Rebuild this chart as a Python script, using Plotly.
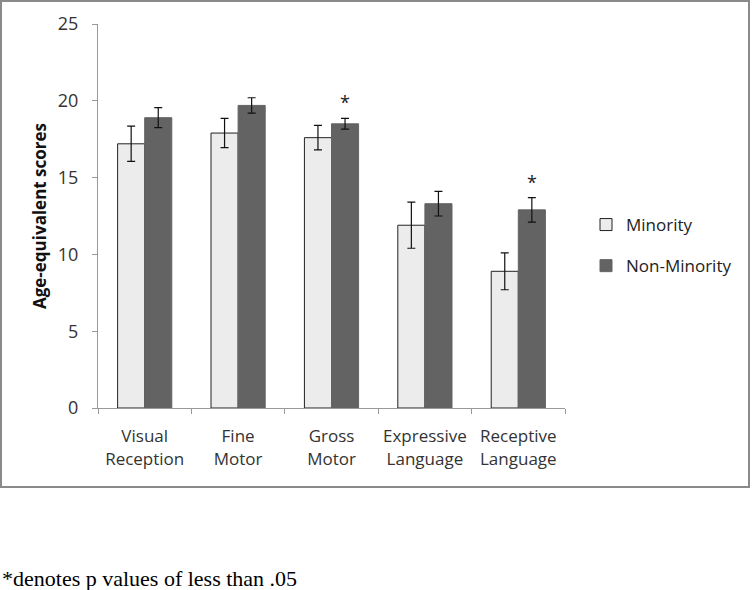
import plotly.graph_objects as go

categories = ["Visual<br>Reception", "Fine<br>Motor", "Gross<br>Motor", "Expressive<br>Language", "Receptive<br>Language"]
minority = [17.2, 17.9, 17.6, 11.9, 8.9]
minority_err = [1.15, 0.95, 0.8, 1.5, 1.2]
non_minority = [18.9, 19.7, 18.5, 13.3, 12.9]
non_minority_err = [0.65, 0.5, 0.35, 0.8, 0.8]
significant = [False, False, True, False, True]

W, H = 752, 590
L, R, T, B = 98, 565, 24, 408
pw, ph = R - L, B - T

def px_x(x):
    return (x - L) / pw

def px_y(y):
    return (B - y) / ph

fig = go.Figure()
fig.add_trace(go.Bar(
    x=categories, y=minority, name="Minority",
    marker=dict(color="#ececec", line=dict(color="#222222", width=1)),
    error_y=dict(type="data", array=minority_err, color="#111111", thickness=1.2, width=4),
    legendgroup="a",
))
fig.add_trace(go.Bar(
    x=categories, y=non_minority, name="Non-Minority",
    marker=dict(color="#636363", line=dict(color="#636363", width=1)),
    error_y=dict(type="data", array=non_minority_err, color="#111111", thickness=1.2, width=4),
    legendgroup="b",
))

for i, sig in enumerate(significant):
    if sig:
        fig.add_annotation(
            x=categories[i], y=non_minority[i] + non_minority_err[i],
            xref="x", yref="y", xshift=13.5, yshift=16,
            text="*", showarrow=False,
            font=dict(family="Open Sans, Liberation Sans, sans-serif", size=18, color="#222222"),
        )

# outer chart frame
fig.add_shape(type="rect", xref="paper", yref="paper",
              x0=px_x(1), x1=px_x(749), y0=px_y(487), y1=px_y(1),
              line=dict(color="#8a8a8a", width=2), fillcolor="rgba(0,0,0,0)", layer="below")

fig.add_annotation(
    xref="paper", yref="paper", x=px_x(0), y=px_y(578),
    xanchor="left", yanchor="middle", showarrow=False,
    text="*denotes p values of less than .05",
    font=dict(family="Liberation Serif, Times New Roman, serif", size=22, color="#000000"),
)

fig.update_layout(
    width=W, height=H,
    margin=dict(l=L, r=W - R, t=T, b=H - B, pad=0),
    paper_bgcolor="white", plot_bgcolor="white",
    barmode="group", bargap=0.42, bargroupgap=0,
    font=dict(family="Open Sans, Liberation Sans, sans-serif", size=15, color="#333333"),
    showlegend=True,
    legend=dict(x=px_x(586), y=px_y(207), xanchor="left", yanchor="top",
                font=dict(size=17, color="#222222"), tracegroupgap=16,
                itemwidth=30, bgcolor="rgba(0,0,0,0)"),
    yaxis=dict(range=[0, 25], tickvals=[0, 5, 10, 15, 20, 25], showgrid=False,
               showline=True, linecolor="#999999", linewidth=1,
               ticks="outside", ticklen=5, tickcolor="#999999",
               ticklabelstandoff=10,
               tickfont=dict(size=18, color="#333333"),
               title=dict(text="<b>Age-equivalent scores</b>", font=dict(size=17, color="#111111"), standoff=6),
               zeroline=False),
    xaxis=dict(showgrid=False, showline=True, linecolor="#999999", linewidth=1,
               ticks="outside", ticklen=5, tickcolor="#999999", tickson="boundaries",
               ticklabelstandoff=13, tickangle=0,
               tickfont=dict(size=17, color="#333333")),
)

fig.write_html("out.html", config={"displayModeBar": False},
               post_script="document.body.style.margin='0';")
